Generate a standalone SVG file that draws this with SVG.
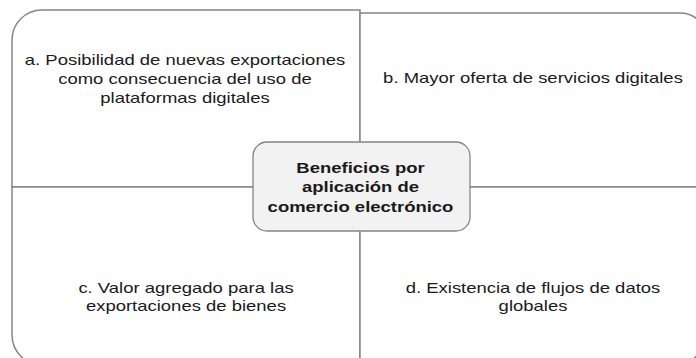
<svg xmlns="http://www.w3.org/2000/svg" width="696" height="358" viewBox="0 0 696 358">
<style>
.q{fill:#ffffff;stroke:#858585;stroke-width:1.5}
.c{fill:#f2f2f2;stroke:#858585;stroke-width:1.3}
.t{font-family:"Liberation Sans",Arial,sans-serif;font-size:15.4px;fill:#1a1a1a;text-anchor:middle}
.tb{font-family:"Liberation Sans",Arial,sans-serif;font-size:15.4px;font-weight:bold;fill:#1a1a1a;text-anchor:middle}
</style>
<rect width="696" height="358" fill="#ffffff"/>
<g id="node-a">
<path class="q" d="M360,187 V10 H42 A30,30 0 0 0 12,40 V187 Z"/>
<text class="t" transform="translate(185,65) scale(1.2,1)"><tspan x="0" y="0">a. Posibilidad de nuevas exportaciones</tspan><tspan x="0" y="19">como consecuencia del uso de</tspan><tspan x="0" y="38">plataformas digitales</tspan></text>
</g>
<g id="node-b">
<path class="q" d="M360,187 V13 H680 A28,28 0 0 1 708,41 V187 Z"/>
<text class="t" transform="translate(533,83) scale(1.2,1)"><tspan x="0" y="0">b. Mayor oferta de servicios digitales</tspan></text>
</g>
<g id="node-c">
<path class="q" d="M360,187 V365 H42 A30,30 0 0 1 12,335 V187 Z"/>
<text class="t" transform="translate(186,293) scale(1.2,1)"><tspan x="0" y="0">c. Valor agregado para las</tspan><tspan x="0" y="18.5">exportaciones de bienes</tspan></text>
</g>
<g id="node-d">
<path class="q" d="M360,187 V365 H675 A30,30 0 0 0 705,335 V187 Z"/>
<text class="t" transform="translate(533,293) scale(1.2,1)"><tspan x="0" y="0">d. Existencia de flujos de datos</tspan><tspan x="0" y="18.5">globales</tspan></text>
</g>
<g id="connectors"></g>
<g id="node-center">
<rect class="c" x="253" y="142" width="217" height="89" rx="14" ry="14"/>
<text class="tb" transform="translate(360.5,173) scale(1.2,1)"><tspan x="0" y="0">Beneficios por</tspan><tspan x="0" y="19.5">aplicación de</tspan><tspan x="0" y="39">comercio electrónico</tspan></text>
</g>
</svg>
